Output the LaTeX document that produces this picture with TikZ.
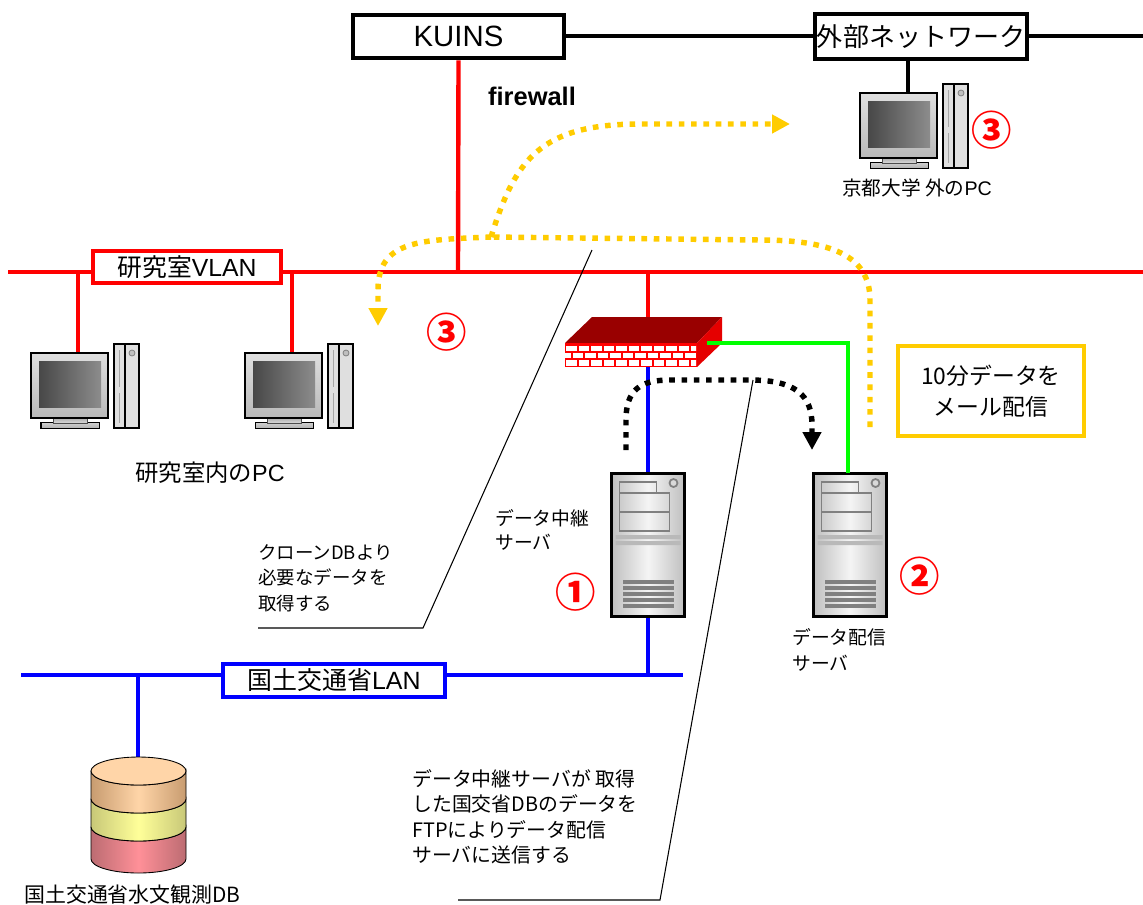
\documentclass[tikz,border=0pt]{standalone}
\usepackage{fontspec}
\setmainfont{Noto Sans CJK JP}
\newfontfamily\lf{Liberation Sans}
\usetikzlibrary{calc,backgrounds,arrows.meta,positioning}
\definecolor{mailyellow}{HTML}{FFCC00}
\definecolor{wallred}{HTML}{990000}
\definecolor{dbtop}{HTML}{FFD5A8}
\definecolor{dbtopedge}{HTML}{C89C70}
\definecolor{dbmid}{HTML}{FFFF99}
\definecolor{dbmidedge}{HTML}{C8C878}
\definecolor{dblow}{HTML}{FF9098}
\definecolor{dblowedge}{HTML}{BC6C72}
\newcommand{\fsz}[2]{\fontsize{#1}{#2}\selectfont}
\tikzset{
  netbox/.style={draw=#1, fill=white, line width=2.6pt, inner sep=0pt},
  redline/.style={red, line width=2.5pt},
  blueline/.style={blue, line width=2.5pt},
  greenline/.style={green, line width=2.5pt},
  blackline/.style={black, line width=2.5pt},
  thinline/.style={black, line width=0.6pt},
  maildots/.style={mailyellow, line width=3.1pt, dash pattern=on 3.2pt off 3.8pt, -{Triangle[length=10.2pt,width=10.2pt]}},
  ftpdots/.style={black, line width=3.1pt, dash pattern=on 3.2pt off 3.8pt, -{Triangle[length=10.2pt,width=10.2pt]}},
  numlabel/.style={red, font=\fsz{23}{23}\bfseries, inner sep=0pt},
  dblayer/.style 2 args={draw=black, line width=.5pt, left color=#2, right color=#2, middle color=#1},
  pcicon/.pic={
    \shade[draw=black, line width=.57pt, top color=gray!35, bottom color=gray!60] (10,69) rectangle (68,75);
    \shade[draw=black!70, line width=.34pt, top color=gray!70, bottom color=gray!30] (22,64) rectangle (56,70);
    \shade[draw=black, line width=.68pt, top color=gray!25, bottom color=gray!55] (0,0) rectangle (77,65);
    \shade[left color=black!72, right color=black!45] (8,8) rectangle (70,54);
    \fill[gray!25] (83,-9) rectangle (108,75);
    \draw[black, line width=.68pt] (83,-9) rectangle (108,75) (94,-9) -- (94,75);
    \draw[gray!70, line width=.57pt] (88,-3) -- (88,34) (88,40) -- (88,70);
    \draw[gray, fill=gray!50, line width=.45pt] (101,0) circle[radius=3];
  },
  servericon/.pic={
    \shade[draw=black, line width=1.7pt, left color=gray!50, right color=gray!50, middle color=gray!8] (0,0) rectangle (73,143);
    \draw[gray, line width=1pt] (8,9) rectangle (45,20) (8,20) rectangle (58,39) (8,39) rectangle (58,58);
    \draw[gray, fill=gray!30, line width=1pt] (62,10) circle[radius=4];
    \fill[gray!55] (4,62) rectangle (69,66) (4,68) rectangle (69,72);
    \foreach \k in {0,1,2,3,4} \fill[gray] (11,{107+6*\k}) rectangle (62,{111+6*\k});
  },
}
\begin{document}
\begin{tikzpicture}[x=0.02cm, y=-0.02cm, font=\fsz{10.5}{14.5}, line join=miter]
\useasboundingbox (0,0) rectangle (1143,904);
\coordinate (redl) at (8,272); \coordinate (redr) at (1143,272); \coordinate (bluel) at (21,675); \coordinate (bluer) at (683,675); \coordinate (blackl) at (566,36); \coordinate (blackr) at (1143,36);
\coordinate (kuinsj) at (458,272); \coordinate (pcaj) at (78,272); \coordinate (pcat) at (78,353); \coordinate (pcbj) at (292,272); \coordinate (pcbt) at (292,353); \coordinate (pcct) at (908,93);
\coordinate (wallj) at (648,272); \coordinate (wallt) at (648,317); \coordinate (wallb) at (648,367); \coordinate (wallr) at (707,343); \coordinate (elbow) at (848,343);
\coordinate (relayt) at (648,473); \coordinate (relayb) at (648,616); \coordinate (relayj) at (648,675); \coordinate (sendt) at (848,473); \coordinate (dbj) at (138,675); \coordinate (dbt) at (138,758);
% boxes on the lines
\node[netbox=black, minimum width=4.22cm, minimum height=0.86cm, font=\lf\fsz{16.7}{18}] (kuins) at (458.5,36.5) {KUINS};
\node[netbox=black, minimum width=4.24cm, minimum height=0.9cm, font=\fsz{14.8}{16}] (outside) at (921,36.5) {外部ネットワーク};
\node[netbox=red, minimum width=3.76cm, minimum height=0.64cm, font=\fsz{14.1}{15}] (vlan) at (187,267) {研究室{\lf VLAN}};
\node[netbox=blue, minimum width=4.44cm, minimum height=0.66cm, font=\fsz{14.2}{15}] (mlit) at (334,680.5) {国土交通省{\lf LAN}};
\node[netbox=mailyellow, minimum width=3.72cm, minimum height=1.8cm, align=center, font=\fsz{13}{17.5}] (mailbox) at (991,391) {10分データを\\メール配信};
% equipment
\pic at (31,353) {pcicon};
\pic at (245,353) {pcicon};
\pic at (860,93) {pcicon};
\pic at (611.5,473) {servericon};
\pic at (813.5,473) {servericon};
\fill[wallred] (592,317) -- (722,317) -- (697,343) -- (565,343) -- cycle;
\fill[red!90!black] (697,343) -- (722,317) -- (722,343) -- (697,367) -- cycle;
\fill[red] (565,343) rectangle (697,367);
\begin{scope}
\clip (565,344) rectangle (696,367);
\foreach \r/\o in {0/0,1/-6,2/0} \foreach \k in {0,...,11} \fill[white] ({566+\o+12.5*\k},{345.5+7.4*\r}) rectangle +(10.8,5.4);
\end{scope}
\path[dblayer={dblow}{dblowedge}] (91,827) -- (91,859) arc[start angle=180, end angle=0, x radius=47.5, y radius=14] -- (186,827) arc[start angle=0, end angle=180, x radius=47.5, y radius=14] -- cycle;
\path[dblayer={dbmid}{dbmidedge}] (91,799) -- (91,827) arc[start angle=180, end angle=0, x radius=47.5, y radius=14] -- (186,799) arc[start angle=0, end angle=180, x radius=47.5, y radius=14] -- cycle;
\path[dblayer={dbtop}{dbtopedge}] (91,771) -- (91,799) arc[start angle=180, end angle=0, x radius=47.5, y radius=14] -- (186,771) arc[start angle=0, end angle=180, x radius=47.5, y radius=14] -- cycle;
\draw[black, fill=dbtop, line width=.5pt] (138.5,771) ellipse[x radius=47.5, y radius=14];
% labels
\node[font=\lf\fsz{14.5}{16}\bfseries] (fw) at (532,96) {firewall};
\node[font=\fsz{11.2}{14}] (pccap) at (917,188) {京都大学 外の{\lf PC}};
\node[font=\fsz{13.3}{15}] (labcap) at (210,473) {研究室内の{\lf PC}};
\node[font=\fsz{11.9}{14}, anchor=west, inner sep=0pt] (dbcap) at (24,895) {国土交通省水文観測DB};
\node[font=\fsz{10.7}{13.6}, anchor=north west, inner sep=0pt, align=left] (relaycap) at (495,509) {データ中継\\サーバ};
\node[font=\fsz{10.7}{14.6}, anchor=north west, inner sep=0pt, align=left] (sendcap) at (792,628) {データ配信\\サーバ};
\node[anchor=north west, inner sep=0pt, align=left] (clonecap) at (258,544) {クローンDBより\\必要なデータを\\取得する};
\node[font=\fsz{11.3}{14.5}, anchor=north west, inner sep=0pt, align=left] (ftpcap) at (412,769) {データ中継サーバが 取得\\した国交省DBのデータを\\FTPによりデータ配信\\サーバに送信する};
\node[numlabel] (numa) at (576,592) {①};
\node[numlabel] (numb) at (920,576) {②};
\node[numlabel] (numc) at (447,332) {③};
\node[numlabel] (numd) at (992,130) {③};
% connectors
\begin{scope}[on background layer]
\draw[redline] (redl) -- (redr);
\draw[redline] (kuins.south) -- (kuinsj);
\draw[redline] (pcaj) -- (pcat);
\draw[redline] (pcbj) -- (pcbt);
\draw[redline] (wallj) -- (wallt);
\draw[blackline] (blackl) -- (blackr);
\draw[blackline] (outside.south -| pcct) -- (pcct);
\draw[blueline] (bluel) -- (bluer);
\draw[blueline] (wallb) -- (relayt);
\draw[blueline] (relayb) -- (relayj);
\draw[blueline] (dbj) -- (dbt);
\end{scope}
\draw[greenline] (wallr) -- (elbow) -- (sendt);
\coordinate (mailsrc) at (870,427); \coordinate (mailjoin) at (491,237); \coordinate (labend) at (378,326); \coordinate (outend) at (790,124);
\coordinate (ftpsrc) at (626,450); \coordinate (ftpend) at (812,450); \coordinate (ftptop) at (753,380); \coordinate (wiretop) at (592,250); \coordinate (wirea) at (423,628); \coordinate (wireb) at (258,628); \coordinate (wirec) at (660,900); \coordinate (wired) at (458,900);
\draw[maildots, -] (mailsrc) -- (870,300) .. controls (870,255) and (830,240) .. (760,240) -- (491,237);
\draw[maildots] (mailjoin) .. controls (420,240) and (378,240) .. (378,290) -- (labend);
\draw[maildots] (mailjoin) .. controls (515,160) and (540,124) .. (640,124) -- (outend);
\draw[ftpdots] (ftpsrc) -- (626,420) .. controls (626,390) and (640,380) .. (670,380) -- (750,380) .. controls (795,380) and (812,395) .. (812,425) -- (ftpend);
\draw[thinline] (wireb) -- (wirea) -- (wiretop);
\draw[thinline] (wired) -- (wirec) -- (ftptop);
\end{tikzpicture}
\end{document}
